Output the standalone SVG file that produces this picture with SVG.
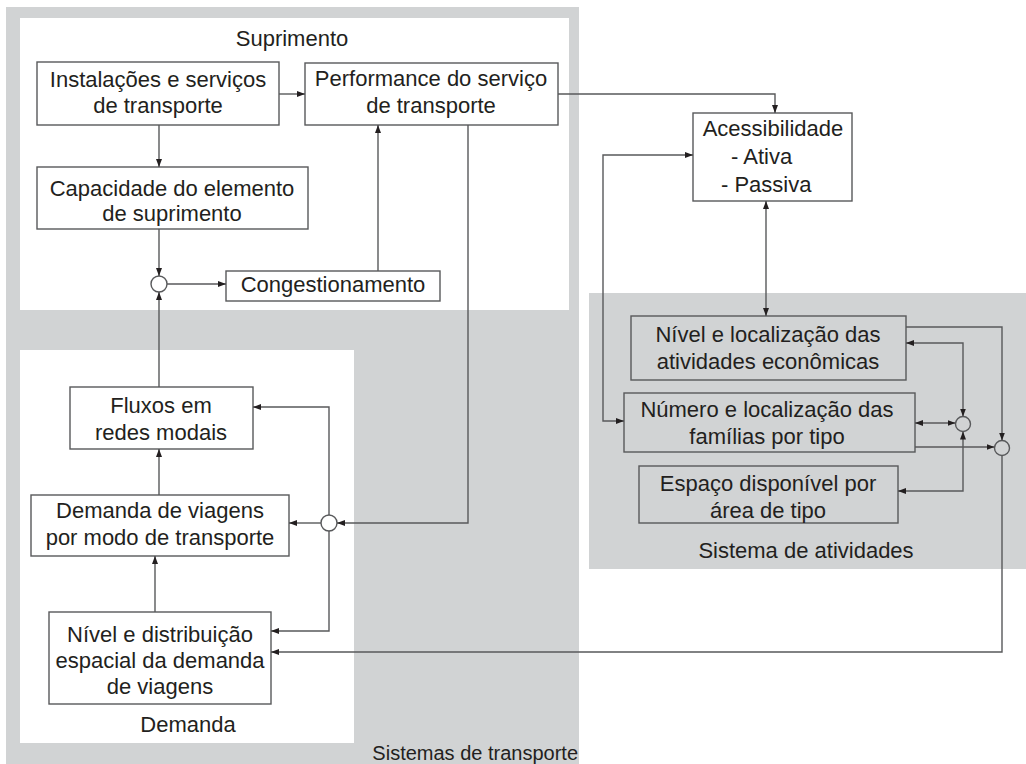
<svg xmlns="http://www.w3.org/2000/svg" width="1026" height="764" viewBox="0 0 1026 764">
  <style>
    .panel { fill: #d1d3d4; }
    .inner { fill: #ffffff; }
    .box { fill: none; stroke: #58595b; stroke-width: 1.4; }
    .junction { fill: none; stroke: #58595b; stroke-width: 1.4; }
    .link { fill: none; stroke: #58595b; stroke-width: 1.4; }
    text { font-family: "Liberation Sans", Arial, sans-serif; font-size: 22px; fill: #231f20; }
    .c { text-anchor: middle; }
    .small { font-size: 20px; }
  </style>
  <defs>
    <marker id="arrow" viewBox="0 0 8 6" refX="8" refY="3" markerWidth="8" markerHeight="6" markerUnits="userSpaceOnUse" orient="auto-start-reverse">
      <path d="M0,0 L8,3 L0,6 z" fill="#231f20"/>
    </marker>
  </defs>

  <!-- Background panels -->
  <g id="transport-system">
    <rect class="panel" x="6" y="7" width="573" height="757"/>
    <rect class="inner" x="20" y="18" width="549" height="292"/>
    <rect class="inner" x="20" y="350" width="334" height="393"/>
    <text class="small" x="578" y="760" text-anchor="end">Sistemas de transporte</text>
  </g>
  <g id="activity-system">
    <rect class="panel" x="589" y="293" width="437" height="276"/>
    <text class="c" x="806" y="558">Sistema de atividades</text>
  </g>
  <g id="supply-label"><text class="c" x="292" y="46">Suprimento</text></g>
  <g id="demand-label"><text class="c" x="188" y="732">Demanda</text></g>

  <!-- Nodes -->
  <g id="instalacoes">
    <rect class="box" x="37" y="62" width="242" height="63"/>
    <text class="c" x="158" y="87">Instalações e serviços</text>
    <text class="c" x="158" y="113">de transporte</text>
  </g>
  <g id="performance">
    <rect class="box" x="305" y="63" width="253" height="62"/>
    <text class="c" x="431" y="86">Performance do serviço</text>
    <text class="c" x="431" y="113">de transporte</text>
  </g>
  <g id="capacidade">
    <rect class="box" x="37" y="167" width="271" height="62"/>
    <text class="c" x="172" y="196">Capacidade do elemento</text>
    <text class="c" x="172" y="221">de suprimento</text>
  </g>
  <g id="congestionamento">
    <rect class="box" x="226" y="271" width="214" height="30"/>
    <text class="c" x="333" y="292">Congestionamento</text>
  </g>
  <g id="fluxos">
    <rect class="box" x="70" y="387" width="183" height="62"/>
    <text class="c" x="161" y="413">Fluxos em</text>
    <text class="c" x="161" y="440">redes modais</text>
  </g>
  <g id="demanda-viagens">
    <rect class="box" x="31" y="495" width="258" height="61"/>
    <text class="c" x="160" y="518">Demanda de viagens</text>
    <text class="c" x="160" y="545">por modo de transporte</text>
  </g>
  <g id="nivel-distribuicao">
    <rect class="box" x="49" y="612" width="222" height="92"/>
    <text class="c" x="160" y="642">Nível e distribuição</text>
    <text class="c" x="160" y="668">espacial da demanda</text>
    <text class="c" x="160" y="694">de viagens</text>
  </g>
  <g id="acessibilidade">
    <rect class="box" x="693" y="113" width="159" height="88"/>
    <text class="c" x="773" y="136">Acessibilidade</text>
    <text x="731" y="164">-  Ativa</text>
    <text x="721" y="192">-  Passiva</text>
  </g>
  <g id="atividades-economicas">
    <rect class="box" x="631" y="316" width="275" height="64"/>
    <text class="c" x="768" y="342">Nível e localização das</text>
    <text class="c" x="768" y="369">atividades econômicas</text>
  </g>
  <g id="familias">
    <rect class="box" x="624" y="393" width="291" height="59"/>
    <text class="c" x="767" y="417">Número e localização das</text>
    <text class="c" x="767" y="444">famílias por tipo</text>
  </g>
  <g id="espaco">
    <rect class="box" x="639" y="466" width="259" height="57"/>
    <text class="c" x="768" y="491">Espaço disponível por</text>
    <text class="c" x="768" y="518">área de tipo</text>
  </g>
  <g id="junction-supply"><circle class="junction" cx="159" cy="284" r="8"/></g>
  <g id="junction-demand"><circle class="junction" cx="329" cy="523" r="8"/></g>
  <g id="junction-activities"><circle class="junction" cx="963" cy="424" r="7.5"/></g>
  <g id="junction-output"><circle class="junction" cx="1002" cy="448" r="7.5"/></g>

  <!-- Connectors -->
  <g id="connectors">
    <path class="link" d="M279,94 H305" marker-end="url(#arrow)"/>
    <path class="link" d="M159,125 V167" marker-end="url(#arrow)"/>
    <path class="link" d="M159,229 V276" marker-end="url(#arrow)"/>
    <path class="link" d="M167,284 H226" marker-end="url(#arrow)"/>
    <path class="link" d="M378,271 V125" marker-end="url(#arrow)"/>
    <path class="link" d="M159,387 V292" marker-end="url(#arrow)"/>
    <path class="link" d="M159,495 V449" marker-end="url(#arrow)"/>
    <path class="link" d="M155,612 V556" marker-end="url(#arrow)"/>
    <path class="link" d="M468,125 V523 H337" marker-end="url(#arrow)"/>
    <path class="link" d="M321,523 H289" marker-end="url(#arrow)"/>
    <path class="link" d="M329,515 V407 H253" marker-end="url(#arrow)"/>
    <path class="link" d="M329,531 V631 H271" marker-end="url(#arrow)"/>
    <path class="link" d="M558,94 H775 V113" marker-end="url(#arrow)"/>
    <path class="link" d="M766,201 V316" marker-start="url(#arrow)" marker-end="url(#arrow)"/>
    <path class="link" d="M693,155 H603 V421 H624" marker-start="url(#arrow)" marker-end="url(#arrow)"/>
    <path class="link" d="M906,327 H1002 V440.5" marker-end="url(#arrow)"/>
    <path class="link" d="M963,416.5 V343 H906" marker-start="url(#arrow)" marker-end="url(#arrow)"/>
    <path class="link" d="M915,423 H955.5" marker-start="url(#arrow)" marker-end="url(#arrow)"/>
    <path class="link" d="M963,431.5 V491 H898" marker-start="url(#arrow)" marker-end="url(#arrow)"/>
    <path class="link" d="M915,447 H994.5" marker-end="url(#arrow)"/>
    <path class="link" d="M1002,455.5 V652 H271" marker-end="url(#arrow)"/>
  </g>
</svg>
